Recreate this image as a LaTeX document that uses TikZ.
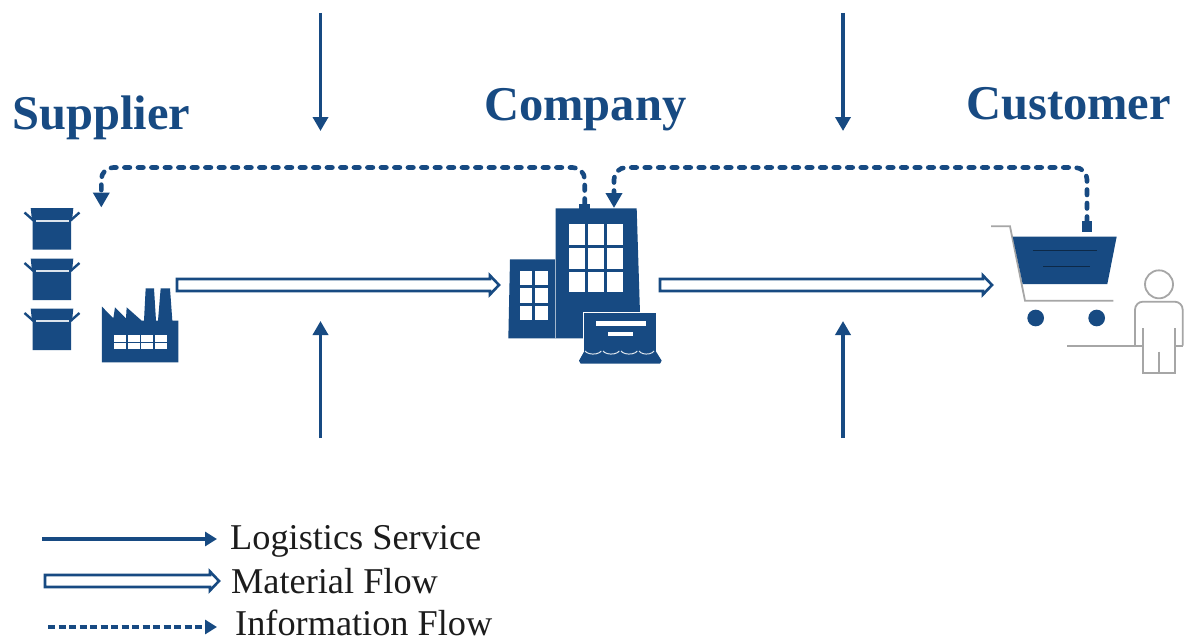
\documentclass[tikz,border=0pt]{standalone}
\usepackage{fontspec}
\setmainfont{Liberation Serif}
\usetikzlibrary{arrows.meta,calc}
\definecolor{navy}{HTML}{174A82}
\definecolor{legendink}{HTML}{1C1C1C}
\definecolor{pale}{HTML}{A6A6A6}
\tikzset{
  title/.style={anchor=base west,inner sep=0pt,text=navy,font=\fontsize{48.5}{50}\selectfont\bfseries},
  legendtext/.style={anchor=base west,inner sep=0pt,text=legendink,font=\fontsize{36.3}{38}\selectfont},
  logistics/.style={draw=navy,line width=3.6pt,-{Triangle[length=14pt,width=15pt]}},
  logisticskey/.style={draw=navy,line width=3.6pt,-{Triangle[length=12pt,width=14pt]}},
  infoflow/.style={draw=navy,line width=4.6pt,line cap=round,dash pattern=on 5.5pt off 8pt,rounded corners=12pt,
    -{Triangle[length=15pt,width=16pt,line cap=butt,sep=0pt]}},
  infokey/.style={draw=navy,line width=3.6pt,line cap=butt,dash pattern=on 7pt off 3.5pt,
    -{Triangle[length=12pt,width=14pt]}},
  matflow/.style={draw=navy,line width=2.6pt,fill=white,line join=miter,
    to path={let \p1=(\tikztostart),\p2=(\tikztotarget) in
      (\x1,\y1+6pt) -- (\x2-10pt,\y1+6pt) -- (\x2-10pt,\y1+9.5pt) -- (\x2-1pt,\y1)
      -- (\x2-10pt,\y1-9.5pt) -- (\x2-10pt,\y1-6pt) -- (\x1,\y1-6pt) -- cycle}},
  zoomscope/.style={x=0.33333pt,y=-0.33333pt},
  person/.style={draw=pale,line width=1.8pt},
}
\begin{document}
\begin{tikzpicture}[x=1pt,y=-1pt]
\useasboundingbox (0,0) rectangle (1185,642);
\fill[white] (0,0) rectangle (1185,642);

% boxes
\foreach \dy in {0,50.5,100.5}{
  \begin{scope}[shift={(0,\dy)}]
    \fill[navy] (30.7,208) -- (73.3,208) -- (72,221) -- (71,221) -- (71,249.5) -- (32.7,249.5) -- (32.7,221) -- (32,221) -- cycle;
    \draw[navy,line width=2.4pt] (24.5,212.5) -- (33,220);
    \draw[navy,line width=2.4pt] (79.5,212.5) -- (71,220);
    \draw[white!85!navy,line width=1.8pt] (36,220.7) -- (69,220.7);
  \end{scope}
}
% factory
\begin{scope}[shift={(0,150)},zoomscope]
  \fill[navy] (306,637) -- (306,470) -- (340,505) -- (345,472) -- (378,505) -- (380,472) -- (425,512)
    -- (432,512) -- (437,415) -- (462,415) -- (468,512) -- (474,512) -- (482,415) -- (510,415) -- (517,512)
    -- (535,512) -- (535,637) -- cycle;
  \foreach \cx/\cw in {342/36,385/35,424/36,465/35}
    \foreach \cy/\ch in {555/20,580/18}
      \fill[white] (\cx,\cy) rectangle ++(\cw,\ch);
\end{scope}
% company building
\begin{scope}[shift={(490,150)},zoomscope]
  \fill[navy] (268,176) -- (268,162) -- (300,162) -- (300,176) -- cycle;
  \fill[navy] (197,175) -- (440,175) -- (450,490) -- (450,565) -- (197,565) -- cycle;
  \fill[navy] (60,328) -- (197,328) -- (197,565) -- (55,565) -- cycle;
  \draw[white!60!navy,line width=0.5pt] (197,328) -- (197,565);
  \foreach \cx in {238,295,352}
    \foreach \cy in {223,295,365}
      \fill[white] (\cx,\cy) rectangle ++(48,62);
  \foreach \cx in {90,136}
    \foreach \cy in {362,415,467}
      \fill[white] (\cx,\cy) rectangle ++(37,43);
  \fill[navy,draw=white,line width=1.2pt] (280,640) -- (280,488) -- (500,488) -- (500,640) -- cycle;
  \fill[navy] (285,600) -- (495,600) -- (515,632) -- (510,641) -- (272,641) -- (267,632) -- cycle;
  \draw[white!85!navy,line width=1pt] (285,603) arc[start angle=160,end angle=20,x radius=26,y radius=14];
  \draw[white!85!navy,line width=1pt] (339,603) arc[start angle=160,end angle=20,x radius=26,y radius=14];
  \draw[white!85!navy,line width=1pt] (393,603) arc[start angle=160,end angle=20,x radius=26,y radius=14];
  \draw[white!85!navy,line width=1pt] (447,603) arc[start angle=160,end angle=20,x radius=24,y radius=14];
  \fill[white] (317,514) rectangle (468,527);
  \fill[white] (354,545) rectangle (430,558);
\end{scope}
% cart and customer
\begin{scope}[shift={(980,160)},zoomscope]
  \draw[person] (33,199) -- (90,199) -- (135,422) -- (400,422);
  \fill[navy] (98,230) -- (410,230) -- (382,372) -- (128,372) -- cycle;
  \draw[black!45!navy,line width=1pt] (158,272) -- (350,272);
  \draw[black!45!navy,line width=1pt] (190,320) -- (330,320);
  \fill[navy] (167,474) circle[radius=25];
  \fill[navy] (350,474) circle[radius=25];
  \fill[navy] (305,184) rectangle (337,216);
  \draw[person] (537,373) circle[radius=42];
  \draw[person,rounded corners=8pt] (465,557) -- (465,425) -- (608,425) -- (608,557);
  \draw[person] (490,505) -- (490,638) -- (585,638) -- (585,505);
  \draw[person] (537,575) -- (537,638);
  \draw[person] (262,557) -- (490,557);
  \draw[person] (585,557) -- (608,557);
\end{scope}

% anchors for connectors
\coordinate (supplierIn) at (101.3,207.5);
\coordinate (factoryOut) at (177,285);
\coordinate (companyIn) at (500,285);
\coordinate (companyOut) at (660,285);
\coordinate (cartIn) at (993,285);
\coordinate (companyInfoOut) at (584.7,204);
\coordinate (companyInfoIn) at (614,208);
\coordinate (cartInfoOut) at (1087,222);
\coordinate (a1s) at (320.5,13);  \coordinate (a1e) at (320.5,131);
\coordinate (a2s) at (843,13);    \coordinate (a2e) at (843,131);
\coordinate (a3s) at (320.5,438); \coordinate (a3e) at (320.5,321);
\coordinate (a4s) at (843,438);   \coordinate (a4e) at (843,321);
\coordinate (k1s) at (42,539);    \coordinate (k1e) at (217,539);
\coordinate (k2s) at (45,581);    \coordinate (k2e) at (220,581);
\coordinate (k3s) at (48,627);    \coordinate (k3e) at (217,627);

% logistics service arrows
\draw[logistics] (a1s) -- (a1e);
\draw[logistics] (a2s) -- (a2e);
\draw[logistics] (a3s) -- (a3e);
\draw[logistics] (a4s) -- (a4e);
% material flow
\draw[matflow] (factoryOut) to (companyIn);
\draw[matflow] (companyOut) to (cartIn);
% information flow
\draw[infoflow] (companyInfoOut) -- (companyInfoOut |- 0,167.5) -- (supplierIn |- 0,167.5) -- (supplierIn);
\draw[infoflow] (cartInfoOut) -- (cartInfoOut |- 0,167.5) -- (companyInfoIn |- 0,167.5) -- (companyInfoIn);

% titles
\node[title] (supplier) at (12,129) {Supplier};
\node[title] (company) at (484,120) {Company};
\node[title] (customer) at (966,119) {Customer};

% legend
\draw[logisticskey] (k1s) -- (k1e);
\draw[matflow] (k2s) to (k2e);
\draw[infokey] (k3s) -- (k3e);
\node[legendtext] (l1) at (230,549) {Logistics Service};
\node[legendtext] (l2) at (231,593) {Material Flow};
\node[legendtext] (l3) at (235,635.5) {Information Flow};
\end{tikzpicture}
\end{document}
